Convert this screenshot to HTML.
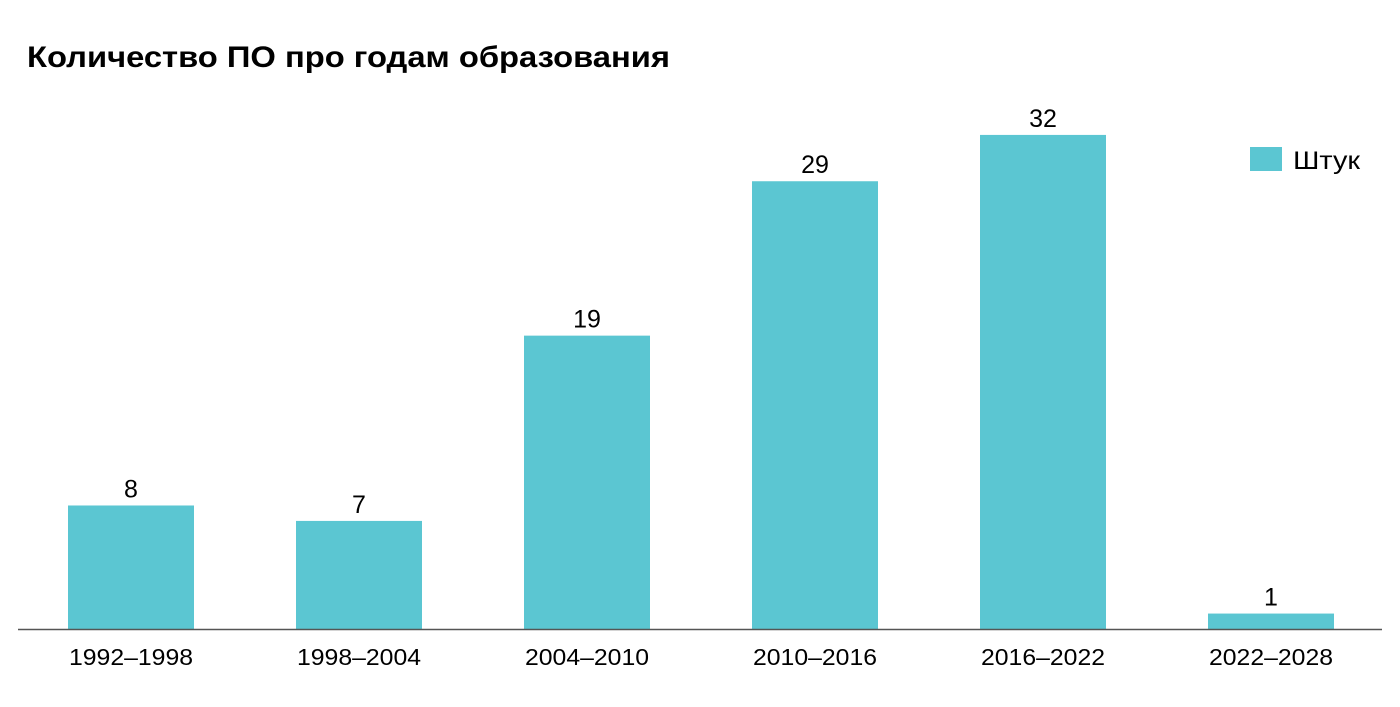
<!DOCTYPE html>
<html><head><meta charset="utf-8"><style>
body{margin:0;background:#fff;width:1400px;height:702px;overflow:hidden;font-family:"Liberation Sans","DejaVu Sans",sans-serif}
</style></head><body>
<svg id="chart" width="1400" height="702" xmlns="http://www.w3.org/2000/svg">
<text x="27" y="67" font-size="30" font-weight="bold" fill="#000" textLength="643" lengthAdjust="spacingAndGlyphs" font-family="Liberation Sans, sans-serif">Количество ПО про годам образования</text>
<g id="bars"></g>
<line x1="18" y1="629.5" x2="1382" y2="629.5" stroke="#555" stroke-width="1.5"/>
<g>
<rect x="1250" y="147" width="32" height="24" fill="#5bc6d2"/>
<text x="1293" y="169" font-size="25" textLength="67" lengthAdjust="spacingAndGlyphs" fill="#000">Штук</text>
</g>
</svg>
<script>
const categories=["1992–1998","1998–2004","2004–2010","2010–2016","2016–2022","2022–2028"];
const values=[8,7,19,29,32,1];
const baseY=629, pxPerUnit=15.44, firstX=68, step=228, barW=126;
function xPos(i){return firstX+i*step;}
function yPos(v){return baseY-v*pxPerUnit;}
const g=document.getElementById('bars');
const NS="http://www.w3.org/2000/svg";
categories.forEach((c,i)=>{
  const r=document.createElementNS(NS,'rect');
  
  
  r.setAttribute('x',xPos(i));r.setAttribute('y',yPos(values[i]));
  r.setAttribute('width',barW);r.setAttribute('height',baseY-yPos(values[i]));
  r.setAttribute('fill','#5bc6d2');g.appendChild(r);
  const t=document.createElementNS(NS,'text');
  
  
  t.setAttribute('x',xPos(i)+barW/2);t.setAttribute('y',yPos(values[i])-8);
  t.setAttribute('text-anchor','middle');t.setAttribute('font-size','25');
  t.textContent=values[i];g.appendChild(t);
  const l=document.createElementNS(NS,'text');
  
  
  l.setAttribute('x',xPos(i)+barW/2);l.setAttribute('y',665);
  l.setAttribute('text-anchor','middle');l.setAttribute('font-size','23');
  l.setAttribute('textLength','124');l.setAttribute('lengthAdjust','spacingAndGlyphs');
  l.textContent=c;g.appendChild(l);
});
</script>
</body></html>
